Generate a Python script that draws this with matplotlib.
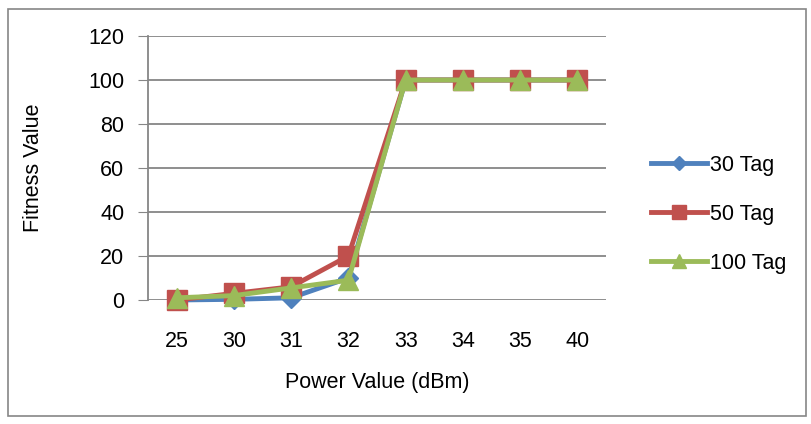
import numpy as np
import matplotlib.pyplot as plt
from matplotlib.patches import Rectangle

# datos
potencias = ['25', '30', '31', '32', '33', '34', '35', '40']
tag_30 = [0, 0.3, 1, 10, 100, 100, 100, 100]
tag_50 = [0, 3, 6, 20, 100, 100, 100, 100]
tag_100 = [1, 2, 5.5, 9, 100, 100, 100, 100]
y_ticks = [0, 20, 40, 60, 80, 100, 120]

plt.rcParams['font.family'] = ['Liberation Sans', 'DejaVu Sans']
fs = 15.5

fig = plt.figure(figsize=(8.11, 4.24), dpi=100)
ax = fig.add_axes([148 / 811, 1 - 300 / 424, 458 / 811, 264 / 424])

x = np.arange(len(potencias))
ax.plot(x, tag_30, color='#4F81BD', lw=3.5, marker='D', ms=10, label='30 Tag',
        zorder=3, clip_on=False)
ax.plot(x, tag_50, color='#C0504D', lw=3.5, marker='s', ms=14, label='50 Tag',
        zorder=4, clip_on=False)
ax.plot(x, tag_100, color='#9BBB59', lw=3.5, marker='^', ms=14, label='100 Tag',
        zorder=5, clip_on=False)

ax.set_xlim(-0.5, len(potencias) - 0.5)
ax.set_ylim(0, 120)
ax.set_xticks(x)
ax.set_xticklabels(potencias)
ax.set_yticks(y_ticks)
ax.tick_params(axis='x', length=0, labelsize=fs, pad=22)
ax.tick_params(axis='y', length=7, color='#868686', labelsize=fs, pad=10)
ax.yaxis.grid(True, color='#868686', lw=1.3)
ax.set_axisbelow(True)
for lado in ['top', 'right', 'bottom']:
    ax.spines[lado].set_visible(False)
ax.spines['left'].set_color('#868686')
ax.spines['left'].set_linewidth(1.3)

ax.set_xlabel('Power Value (dBm)', fontsize=fs, labelpad=15)
ax.set_ylabel('Fitness Value', fontsize=fs, labelpad=32)

leg = ax.legend(loc='center left', bbox_to_anchor=(1.055, 0.325), frameon=False,
                fontsize=fs, handlelength=2.6, labelspacing=1.3, handletextpad=0.15,
                markerscale=0.75)

# marco exterior
fig.patches.append(Rectangle((8 / 811, 8 / 424), 798 / 811, 407 / 424,
                             transform=fig.transFigure, fill=False,
                             edgecolor='#868686', lw=1.2))

fig.savefig('out.png', dpi=100)
